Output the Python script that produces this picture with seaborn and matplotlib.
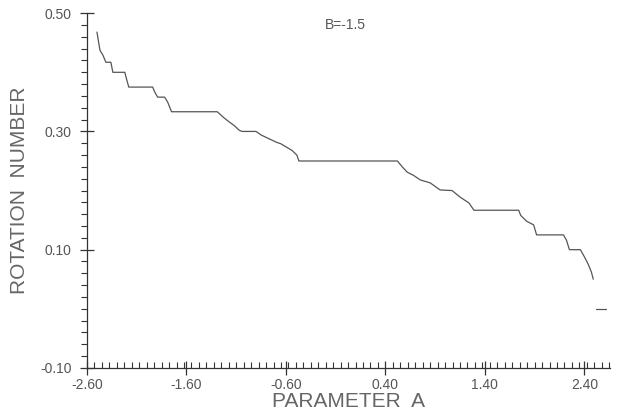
import numpy as np
import pandas as pd
import matplotlib
matplotlib.use("Agg")
import matplotlib.pyplot as plt
import seaborn as sns
from matplotlib.ticker import FixedLocator, MultipleLocator, FormatStrFormatter

param_a = [-2.50, -2.47, -2.44, -2.41, -2.36, -2.34, -2.22, -2.20, -2.18, -1.94,
           -1.92, -1.89, -1.82, -1.79, -1.75, -1.29, -1.23, -1.17, -1.12, -1.07, -1.04, -0.90,
           -0.85, -0.80, -0.75, -0.70, -0.65, -0.60, -0.54, -0.49, -0.47, 0.52, 0.57, 0.62, 0.68, 0.75, 0.85, 0.95,
           1.07, 1.15, 1.24, 1.29, 1.74, 1.76, 1.82, 1.89, 1.92, 2.19,
           2.22, 2.25, 2.36, 2.40, 2.44, 2.47, 2.49]
rotation = [0.468, 0.4375, 0.429, 0.417, 0.417, 0.400, 0.400, 0.387, 0.375, 0.375,
            0.367, 0.358, 0.358, 0.350, 0.3333, 0.3333, 0.324, 0.316, 0.310, 0.302, 0.300, 0.300,
            0.294, 0.290, 0.286, 0.282, 0.279, 0.274, 0.268, 0.260, 0.250, 0.250, 0.240, 0.231, 0.226, 0.218, 0.213, 0.201,
            0.200, 0.189, 0.179, 0.1667, 0.1667, 0.158, 0.148, 0.142, 0.125, 0.125,
            0.116, 0.100, 0.100, 0.088, 0.075, 0.0625, 0.050]

# short isolated piece at the right edge
tail_a = [2.52, 2.62]
tail_rot = [0.0, 0.0]

b_label = "B=-1.5"

sns.set_theme(style="white")
plt.rcParams["font.family"] = ["Liberation Sans", "DejaVu Sans"]
plt.rcParams["axes.unicode_minus"] = False

fig = plt.figure(figsize=(6.17, 4.12), dpi=100)
ax = fig.add_axes([0.141, 0.107, 0.848, 0.861])

main = pd.DataFrame({"A": param_a, "R": rotation})
tail = pd.DataFrame({"A": tail_a, "R": tail_rot})
sns.lineplot(data=main, x="A", y="R", ax=ax, color="#555555", lw=0.9, sort=False)
sns.lineplot(data=tail, x="A", y="R", ax=ax, color="#555555", lw=0.9, sort=False)

ax.set_xlim(-2.6, 2.66)
ax.set_ylim(-0.10, 0.50)

ax.xaxis.set_major_locator(FixedLocator([-2.6, -1.6, -0.6, 0.4, 1.4, 2.4]))
ax.xaxis.set_minor_locator(FixedLocator(np.arange(-2.6, 2.67, 0.075)))
ax.yaxis.set_major_locator(FixedLocator([-0.10, 0.10, 0.30, 0.50]))
ax.yaxis.set_minor_locator(MultipleLocator(0.02))
ax.xaxis.set_major_formatter(FormatStrFormatter("%.2f"))
ax.yaxis.set_major_formatter(FormatStrFormatter("%.2f"))

ax.tick_params(axis="both", which="major", direction="inout", length=10,
               width=0.9, color="#333333", labelsize=10, labelcolor="#555555")
ax.tick_params(axis="y", which="major", pad=6)
ax.tick_params(axis="x", which="major", pad=2)
ax.tick_params(axis="y", which="minor", direction="out", length=4, width=0.8, color="#333333")
ax.tick_params(axis="x", which="minor", direction="in", length=4, width=0.8, color="#333333")
ax.tick_params(axis="both", which="both", bottom=True, left=True)

for side in ["top", "right"]:
    ax.spines[side].set_visible(False)
for side in ["left", "bottom"]:
    ax.spines[side].set_color("#333333")
    ax.spines[side].set_linewidth(0.9)

ax.set_xlabel("PARAMETER  A", fontsize=15, color="#666666", labelpad=0)
ax.set_ylabel("ROTATION  NUMBER", fontsize=15, color="#666666", labelpad=8)

ax.text(0.0, 0.48, b_label, fontsize=10, color="#555555", ha="center", va="center")

fig.savefig("out.png", dpi=100)
